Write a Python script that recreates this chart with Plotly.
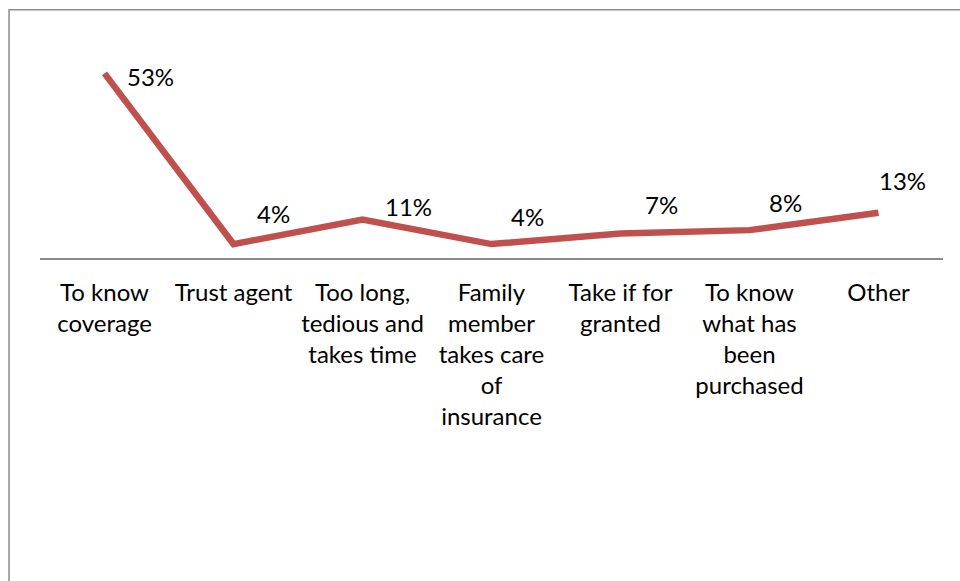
import plotly.graph_objects as go

# Reasons for not reading the policy document (share of respondents)
categories = [
    "To know<br>coverage",
    "Trust agent",
    "Too long,<br>tedious and<br>takes time",
    "Family<br>member<br>takes care<br>of<br>insurance",
    "Take if for<br>granted",
    "To know<br>what has<br>been<br>purchased",
    "Other",
]
values = [53, 4, 11, 4, 7, 8, 13]
value_labels = ["53%", "4%", "11%", "4%", "7%", "8%", "13%"]

# pixel offsets of each value label from its point
label_dx = [46, 40, 46, 36, 41, 36, 24]
label_dy = [-3, 31, 13, 28, 29, 28, 32]

FONT = "Lato, Calibri, Carlito, sans-serif"
LINE_COLOR = "#C0504D"

x_idx = list(range(len(categories)))

fig = go.Figure()
fig.add_trace(go.Scatter(
    x=x_idx,
    y=values,
    mode="lines",
    line=dict(color=LINE_COLOR, width=6.5),
    hoverinfo="skip",
    showlegend=False,
))

for i, (v, lab) in enumerate(zip(values, value_labels)):
    fig.add_annotation(
        x=i, y=v, text=lab, showarrow=False,
        xshift=label_dx[i], yshift=label_dy[i],
        font=dict(family=FONT, size=24, color="#000000"),
    )

# outer chart-area frame
fig.add_shape(
    type="rect", xref="paper", yref="paper",
    x0=-0.0343, x1=1.05, y0=-1.7, y1=1.188,
    line=dict(color="#8c8c8c", width=1.5),
    fillcolor="rgba(0,0,0,0)", layer="below",
)

fig.update_layout(
    width=960, height=581,
    margin=dict(l=40, r=17, t=49, b=323),
    paper_bgcolor="white",
    plot_bgcolor="white",
    font=dict(family=FONT, size=24, color="#000000"),
    xaxis=dict(
        range=[-0.5, 6.5],
        tickmode="array",
        tickvals=x_idx,
        ticktext=categories,
        showgrid=False,
        zeroline=False,
        showline=True,
        linecolor="#898989",
        linewidth=1.5,
        ticks="outside",
        ticklen=12,
        tickcolor="rgba(0,0,0,0)",
        tickfont=dict(family=FONT, size=24, color="#000000"),
        fixedrange=True,
    ),
    yaxis=dict(
        range=[0, 60],
        visible=False,
        showgrid=False,
        zeroline=False,
        fixedrange=True,
    ),
)

fig.write_html("out.html")
